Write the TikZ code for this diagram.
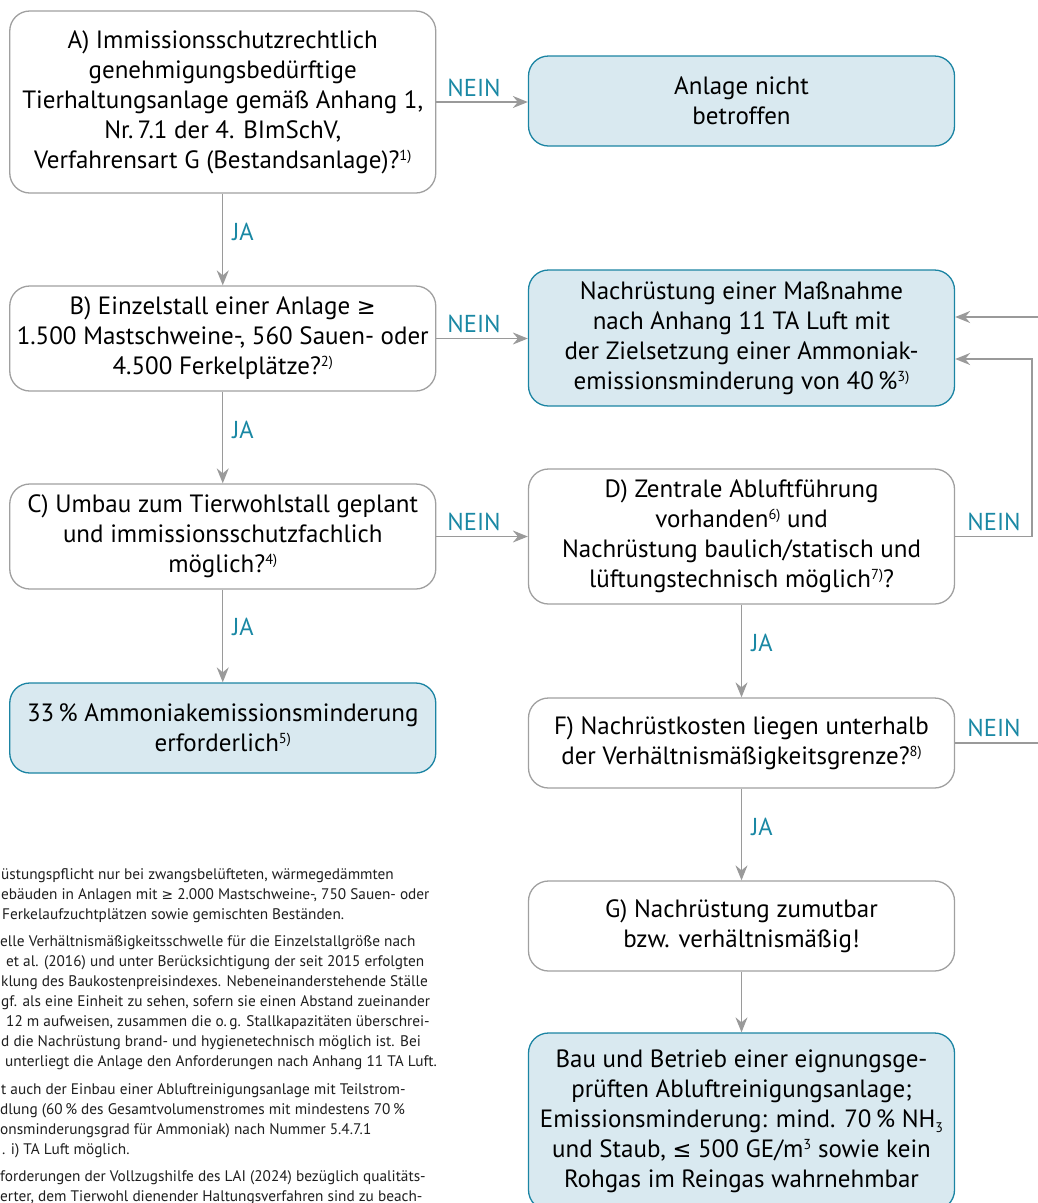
\documentclass[tikz,border=0pt]{standalone}
\usepackage{fontspec}
\setmainfont{PT Sans}
\newfontfamily\symf{DejaVu Sans}
\usetikzlibrary{arrows.meta}
\definecolor{lineg}{HTML}{9A9A9A}
\definecolor{boxg}{HTML}{A0A0A0}
\definecolor{teal}{HTML}{1A88A4}
\definecolor{bluefill}{HTML}{D9E9F0}
\definecolor{blueedge}{HTML}{1B84A3}
\definecolor{ftext}{HTML}{1E1E1E}
\newcommand\fsup[1]{\raisebox{8pt}{\fontsize{14.5}{14.5}\selectfont #1}}
\newcommand\fsub[1]{\raisebox{-5pt}{\fontsize{14}{14}\selectfont #1}}
\newcommand\geqs{{\symf\fontsize{0.9em}{1em}\selectfont ≥}}
\newcommand\leqs{{\symf\fontsize{0.9em}{1em}\selectfont ≤}}
\tikzset{
  qbox/.style={draw=boxg, line width=1.3pt, fill=white, rounded corners=20pt,
    minimum width=426pt, inner sep=0pt, align=center, text=black,
    font=\fontsize{25}{30}\selectfont},
  rbox/.style={qbox, draw=blueedge, fill=bluefill},
  conn/.style={draw=lineg, line width=1.4pt},
  arr/.style={conn, -{Stealth[length=15pt, width=12pt, inset=5pt]}},
  lab/.style={text=teal, font=\fontsize{24.5}{26}\selectfont, inner sep=0pt},
  fn/.style={anchor=base west, inner sep=0pt, text=ftext, font=\fontsize{15.3}{20}\selectfont}
}
\begin{document}
\begin{tikzpicture}[x=1pt, y=-1pt]
\useasboundingbox (0,0) rectangle (1038,1203);
\clip (0,0) rectangle (1038,1203);
% left column
\node[qbox, minimum height=182pt] (A) at (222.75,102) {A) Immissionsschutzrechtlich\\genehmigungsbedürftige\\Tierhaltungsanlage gemäß Anhang 1,\\Nr.\,7.1 der 4. BImSchV,\\Verfahrensart G (Bestandsanlage)?\fsup{1)}};
\node[qbox, minimum height=105pt] (B) at (222.75,338.5) {B) Einzelstall einer Anlage \geqs\\1.500 Mastschweine-, 560 Sauen- oder\\4.500 Ferkelplätze?\fsup{2)}};
\node[qbox, minimum height=105pt] (C) at (222.75,536.5) {C) Umbau zum Tierwohlstall geplant\\und immissionsschutzfachlich\\möglich?\fsup{4)}};
\node[rbox, minimum height=90pt] (E) at (222.75,728) {33\,\% Ammoniakemissionsminderung\\erforderlich\fsup{5)}};
% right column
\node[rbox, minimum height=90pt] (N) at (741.5,101) {Anlage nicht\\betroffen};
\node[rbox, minimum height=136pt] (M) at (741.5,338) {Nachrüstung einer Maßnahme\\nach Anhang 11 TA Luft mit\\der Zielsetzung einer Ammoniak-\\emissionsminderung von 40\,\%\fsup{3)}};
\node[qbox, minimum height=135pt] (D) at (741.5,536.5) {D) Zentrale Abluftführung\\vorhanden\fsup{6)} und\\Nachrüstung baulich/statisch und\\lüftungstechnisch möglich\fsup{7)}?};
\node[qbox, minimum height=90pt] (F) at (741.5,743) {F) Nachrüstkosten liegen unterhalb\\der Verhältnismäßigkeitsgrenze?\fsup{8)}};
\node[qbox, minimum height=90pt] (G) at (741.5,926) {G) Nachrüstung zumutbar\\bzw. verhältnismäßig!};
\node[rbox, minimum height=177pt] (H) at (741.5,1121.5) {Bau und Betrieb einer eignungsge-\\prüften Abluftreinigungsanlage;\\Emissionsminderung: mind. 70\,\% NH\fsub{3}\\und Staub, \leqs\ 500 GE/m\fsup{3} sowie kein\\Rohgas im Reingas wahrnehmbar};
% free ends
\coordinate (r1) at (1038,317);
\coordinate (r2) at (1032,359);
\coordinate (r3) at (1038,743);
% connectors
\draw[arr] (A.east) -- (A.east -| N.west);
\draw[arr] (A.south) -- (B.north);
\draw[arr] (B.south) -- (C.north);
\draw[arr] (C.south) -- (E.north);
\draw[arr] (B.east) -- (B.east -| M.west);
\draw[arr] (C.east) -- (C.east -| D.west);
\draw[arr] (r1) -- (r1 -| M.east);
\draw[arr] (D.east) -| (r2) -- (r2 -| M.east);
\draw[arr] (D.south) -- (F.north);
\draw[conn] (F.east) -- (r3);
\draw[arr] (F.south) -- (G.north);
\draw[arr] (G.south) -- (H.north);
% labels
\node[lab] (l1) at (474,88) {NEIN};
\node[lab] (l2) at (474,324) {NEIN};
\node[lab] (l3) at (474,522) {NEIN};
\node[lab] (l4) at (994,522) {NEIN};
\node[lab] (l5) at (994,728) {NEIN};
\node[lab] (j1) at (243,232) {JA};
\node[lab] (j2) at (243,430) {JA};
\node[lab] (j3) at (243,627) {JA};
\node[lab] (j4) at (762,643) {JA};
\node[lab] (j5) at (762,827) {JA};
% footnotes (cut at left edge)
\node[fn] (f1) at (1,879) {üstungspflicht nur bei zwangsbelüfteten, wärmegedämmten};
\node[fn] (f2) at (1,899) {ebäuden in Anlagen mit \geqs\ 2.000 Mastschweine-, 750 Sauen- oder};
\node[fn] (f3) at (2,919) {Ferkelaufzuchtplätzen sowie gemischten Beständen.};
\node[fn] (f4) at (0,946) {elle Verhältnismäßigkeitsschwelle für die Einzelstallgröße nach};
\node[fn] (f5) at (6,966) {et al. (2016) und unter Berücksichtigung der seit 2015 erfolgten};
\node[fn] (f6) at (1,986) {klung des Baukostenpreisindexes. Nebeneinanderstehende Ställe};
\node[fn] (f7) at (1,1006) {gf. als eine Einheit zu sehen, sofern sie einen Abstand zueinander};
\node[fn] (f8) at (6,1026) {12 m aufweisen, zusammen die o.\,g. Stallkapazitäten überschrei-};
\node[fn] (f9) at (1,1046) {d die Nachrüstung brand- und hygienetechnisch möglich ist. Bei};
\node[fn] (f10) at (5,1066) {unterliegt die Anlage den Anforderungen nach Anhang 11 TA Luft.};
\node[fn] (f11) at (1,1094) {t auch der Einbau einer Abluftreinigungsanlage mit Teilstrom-};
\node[fn] (f12) at (0,1114) {dlung (60\,\% des Gesamtvolumenstromes mit mindestens 70\,\%};
\node[fn] (f13) at (0,1134) {onsminderungsgrad für Ammoniak) nach Nummer 5.4.7.1};
\node[fn] (f14) at (2,1154) {. i) TA Luft möglich.};
\node[fn] (f15) at (0,1181) {forderungen der Vollzugshilfe des LAI (2024) bezüglich qualitäts-};
\node[fn] (f16) at (0,1201) {erter, dem Tierwohl dienender Haltungsverfahren sind zu beach-};
\end{tikzpicture}
\end{document}
